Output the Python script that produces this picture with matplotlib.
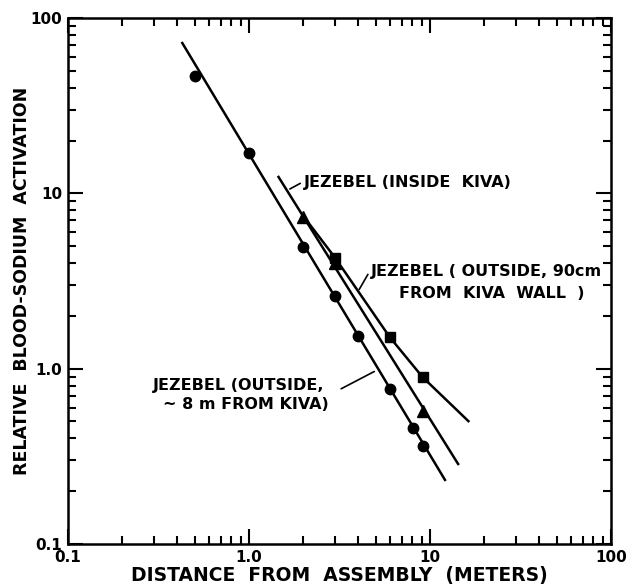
import matplotlib
matplotlib.use('Agg')
import matplotlib.pyplot as plt

# data (log-log)
dist_out8 = [0.5, 1.0, 2.0, 3.0, 4.0, 6.0, 8.1, 9.1]
act_out8 = [46.7, 17.0, 4.94, 2.60, 1.53, 0.766, 0.458, 0.361]

dist_inside = [2.0, 3.0, 9.1]
act_inside = [7.33, 4.0, 0.573]

dist_out90 = [3.0, 6.0, 9.1]
act_out90 = [4.27, 1.51, 0.895]

# drawn curves
fit_out8_x = [0.428, 12.1]
fit_out8_y = [72.0, 0.232]
fit_inside_x = [1.456, 14.3]
fit_inside_y = [12.4, 0.286]
fit_out90_x = [2.0, 3.0, 6.0, 9.1, 16.3]
fit_out90_y = [7.4, 4.27, 1.51, 0.895, 0.502]

tick_vals = [0.1, 1.0, 10, 100]
tick_labels = ['0.1', '1.0', '10', '100']

plt.rcParams['font.family'] = 'DejaVu Sans'
plt.rcParams['font.weight'] = 'bold'

fig = plt.figure(figsize=(6.41, 5.84), dpi=100)
ax = fig.add_axes([68/641, 1-544/584, (611-68)/641, (544-18)/584])

lw = 1.8
ax.plot(fit_out8_x, fit_out8_y, color='black', lw=lw)
ax.plot(fit_inside_x, fit_inside_y, color='black', lw=lw)
ax.plot(fit_out90_x, fit_out90_y, color='black', lw=lw)

ax.plot(dist_out8, act_out8, 'o', color='black', ms=7.5, ls='none')
ax.plot(dist_inside, act_inside, '^', color='black', ms=8, ls='none')
ax.plot(dist_out90, act_out90, 's', color='black', ms=7, ls='none')

ax.set_xscale('log')
ax.set_yscale('log')
ax.set_xlim(0.1, 100)
ax.set_ylim(0.1, 100)
ax.set_xticks(tick_vals)
ax.set_xticklabels(tick_labels)
ax.set_yticks(tick_vals)
ax.set_yticklabels(tick_labels)

ax.tick_params(which='both', direction='in', top=True, right=True, width=1.5)
ax.tick_params(which='major', length=11, labelsize=11, pad=4)
ax.tick_params(which='minor', length=6)
for s in ax.spines.values():
    s.set_linewidth(1.8)

ax.set_xlabel('DISTANCE  FROM  ASSEMBLY  (METERS)', fontsize=13.5, fontweight='bold', labelpad=1)
ax.set_ylabel('RELATIVE  BLOOD-SODIUM  ACTIVATION', fontsize=12.5, fontweight='bold')
ax.yaxis.set_label_coords(-0.068, 0.5)

fs = 11.5
ax.text(2.0, 11.6, 'JEZEBEL (INSIDE  KIVA)', fontsize=fs, va='center', ha='left')
ax.annotate('', xy=(1.63, 10.4), xytext=(1.98, 11.6),
            arrowprops=dict(arrowstyle='-', color='black', lw=1.2))

ax.text(4.71, 3.56, 'JEZEBEL ( OUTSIDE, 90cm', fontsize=fs, va='center', ha='left')
ax.text(6.73, 2.67, 'FROM  KIVA  WALL  )', fontsize=fs, va='center', ha='left')
ax.annotate('', xy=(3.99, 2.74), xytext=(4.62, 3.56),
            arrowprops=dict(arrowstyle='-', color='black', lw=1.2))

ax.text(0.296, 0.805, 'JEZEBEL (OUTSIDE,', fontsize=fs, va='center', ha='left')
ax.text(0.336, 0.628, '~ 8 m FROM KIVA)', fontsize=fs, va='center', ha='left')
ax.annotate('', xy=(5.08, 0.98), xytext=(3.13, 0.755),
            arrowprops=dict(arrowstyle='-', color='black', lw=1.2))

fig.savefig('out.png', dpi=100)
